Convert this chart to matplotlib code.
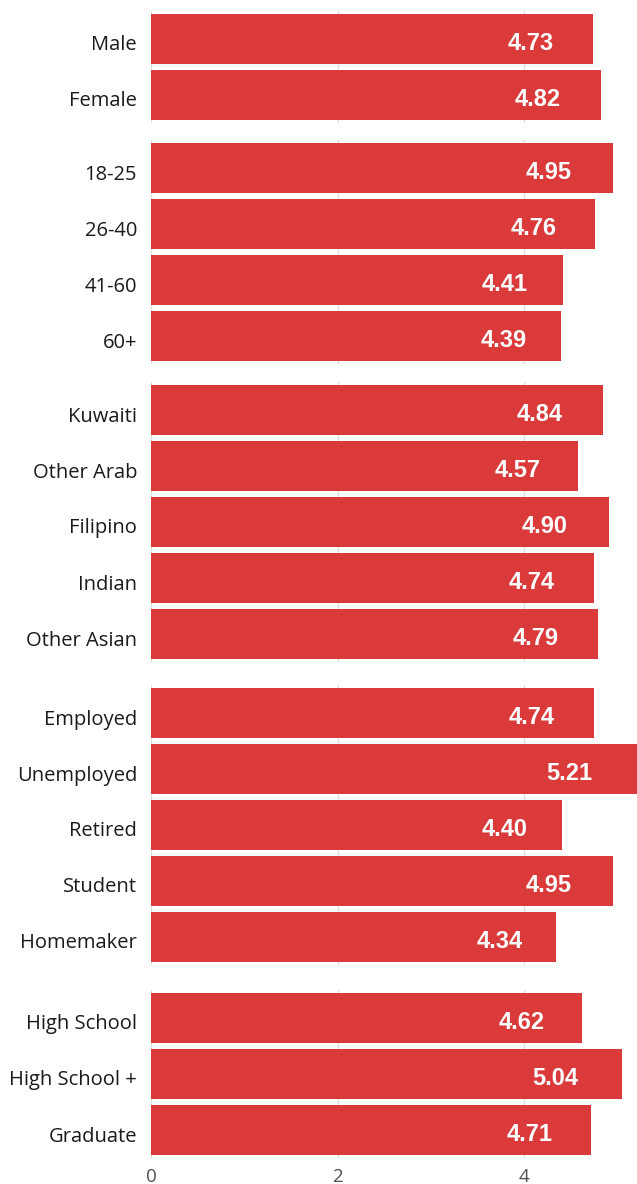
import numpy as np
import matplotlib
matplotlib.use('Agg')
import matplotlib.pyplot as plt
import matplotlib.transforms as mtransforms

# groups of categories and their mean scores
gender = ['Male', 'Female']
gender_vals = [4.73, 4.82]

age = ['18-25', '26-40', '41-60', '60+']
age_vals = [4.95, 4.76, 4.41, 4.39]

nationality = ['Kuwaiti', 'Other Arab', 'Filipino', 'Indian', 'Other Asian']
nationality_vals = [4.84, 4.57, 4.90, 4.74, 4.79]

employment = ['Employed', 'Unemployed', 'Retired', 'Student', 'Homemaker']
employment_vals = [4.74, 5.21, 4.40, 4.95, 4.34]

education = ['High School', 'High School +', 'Graduate']
education_vals = [4.62, 5.04, 4.71]

x_ticks = [0, 2, 4]

groups = [(gender, gender_vals), (age, age_vals), (nationality, nationality_vals),
          (employment, employment_vals), (education, education_vals)]

W, H = 637, 1184
# panel top/bottom in pixels
panel_px = [(11, 123), (140, 364), (382, 662), (685, 965), (990, 1158)]

bar_color = '#db3a3a'
grid_color = '#dedede'

fig = plt.figure(figsize=(W / 100, H / 100), dpi=100)
shift_down = mtransforms.ScaledTranslation(0, -4 / 100, fig.dpi_scale_trans)

for i, ((cats, vals), (top, bot)) in enumerate(zip(groups, panel_px)):
    ax = fig.add_axes([151 / W, 1 - bot / H, 486 / W, (bot - top) / H])
    y = np.arange(len(cats))
    ax.barh(y, vals, height=50 / 56, color=bar_color, zorder=2)
    ax.set_xlim(0, 5.205)
    ax.set_ylim(len(cats) - 0.5, -0.5)
    ax.set_yticks(y)
    ax.set_yticklabels(cats, fontsize=14.5, family='Open Sans', color='#1a1a1a')
    ax.tick_params(axis='y', length=0, pad=10)
    ax.set_xticks(x_ticks)
    ax.grid(axis='x', color=grid_color, linewidth=1, zorder=0)
    ax.set_axisbelow(True)
    for s in ax.spines.values():
        s.set_visible(False)
    if i == len(groups) - 1:
        ax.tick_params(axis='x', length=0, pad=7, labelsize=13.5, labelcolor='#505050')
        for t in ax.get_xticklabels():
            t.set_family('Open Sans')
    else:
        ax.tick_params(axis='x', length=0, labelbottom=False)
    # labels sit a little below the bar centre
    for t in ax.get_yticklabels():
        t.set_transform(t.get_transform() + shift_down)
    for yy, v in zip(y, vals):
        ax.annotate(f'{v:.2f}', (v * 0.86, yy), xytext=(0, -3), textcoords='offset points',
                    ha='center', va='center', color='white', fontsize=17,
                    fontweight='bold', family='Liberation Sans', zorder=3)

fig.savefig('out.png', dpi=100)
